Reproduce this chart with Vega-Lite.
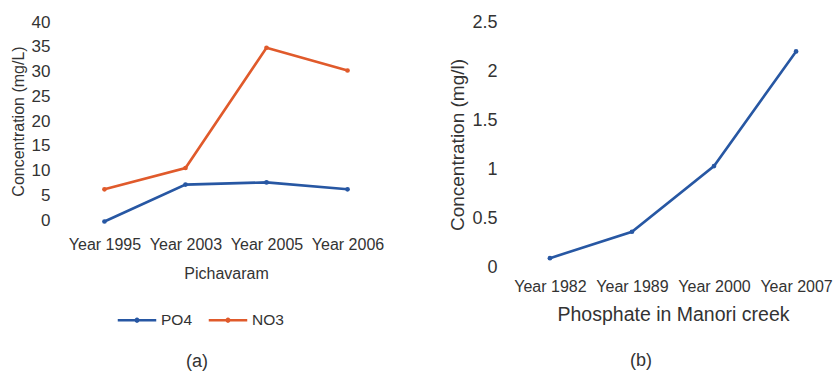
{
  "$schema": "https://vega.github.io/schema/vega-lite/v6.json",
  "padding": {"left": 10, "top": 13, "right": 0, "bottom": 0},
  "background": "white",
  "bounds": "flush",
  "spacing": 129,
  "config": {
    "font": "Liberation Sans",
    "view": {"stroke": null},
    "axis": {"grid": false, "domain": false, "ticks": false, "tickSize": 0, "labelColor": "#333333", "titleColor": "#333333", "titleFontWeight": "normal"},
    "legend": {"labelColor": "#333333"},
    "title": {"color": "#333333", "fontWeight": "normal"}
  },
  "datasets": {
    "pichavaram": [
      {"year": "Year 1995", "series": "PO4", "value": -0.3},
      {"year": "Year 2003", "series": "PO4", "value": 7.15},
      {"year": "Year 2005", "series": "PO4", "value": 7.6},
      {"year": "Year 2006", "series": "PO4", "value": 6.2},
      {"year": "Year 1995", "series": "NO3", "value": 6.2},
      {"year": "Year 2003", "series": "NO3", "value": 10.5},
      {"year": "Year 2005", "series": "NO3", "value": 34.8},
      {"year": "Year 2006", "series": "NO3", "value": 30.2}
    ],
    "manori": [
      {"year": "Year 1982", "value": 0.09},
      {"year": "Year 1989", "value": 0.36},
      {"year": "Year 2000", "value": 1.03},
      {"year": "Year 2007", "value": 2.2}
    ]
  },
  "hconcat": [
    {
      "width": 316,
      "height": 198,
      "data": {"name": "pichavaram"},
      "title": {"text": "(a)", "orient": "bottom", "anchor": "middle", "frame": "bounds", "offset": 71, "fontSize": 18},
      "mark": {"type": "line", "strokeWidth": 2.6, "point": {"filled": true, "size": 22}},
      "encoding": {
        "x": {
          "field": "year", "type": "ordinal", "sort": null,
          "scale": {"type": "point", "padding": 0.45},
          "axis": {"title": "Pichavaram", "labelAngle": 0, "labelFontSize": 16, "labelPadding": 16.5, "titleFontSize": 16, "titlePadding": 13}
        },
        "y": {
          "field": "value", "type": "quantitative",
          "scale": {"domain": [0, 40], "nice": false, "zero": false},
          "axis": {"title": "Concentration (mg/L)", "values": [0, 5, 10, 15, 20, 25, 30, 35, 40], "labelFontSize": 17, "labelPadding": 18, "titleFontSize": 16, "titlePadding": 5}
        },
        "color": {
          "field": "series", "type": "nominal",
          "scale": {"domain": ["PO4", "NO3"], "range": ["#2757a3", "#e05a2b"]},
          "legend": {
            "title": null, "orient": "none", "direction": "horizontal", "legendX": 48, "legendY": 277,
            "padding": 0,
            "symbolType": "M-1,0H1M0.07,0A0.07,0.07,0,1,1,-0.07,0A0.07,0.07,0,1,1,0.07,0",
            "symbolSize": 1482, "symbolStrokeWidth": 2.6,
            "labelFontSize": 15.5, "labelOffset": 3, "columnPadding": 10
          }
        }
      }
    },
    {
      "width": 320,
      "height": 245,
      "data": {"name": "manori"},
      "title": {"text": "(b)", "orient": "bottom", "anchor": "middle", "frame": "bounds", "offset": 28, "fontSize": 18},
      "mark": {"type": "line", "strokeWidth": 2.6, "color": "#2757a3", "point": {"filled": true, "size": 22, "color": "#2757a3"}},
      "encoding": {
        "x": {
          "field": "year", "type": "ordinal", "sort": null,
          "scale": {"type": "point", "padding": 0.45},
          "axis": {"title": "Phosphate in Manori creek", "labelAngle": 0, "labelFontSize": 16, "labelPadding": 11.5, "titleFontSize": 19.5, "titlePadding": 11}
        },
        "y": {
          "field": "value", "type": "quantitative",
          "scale": {"domain": [0, 2.5], "nice": false, "zero": false},
          "axis": {"title": "Concentration (mg/l)", "values": [0, 0.5, 1, 1.5, 2, 2.5], "format": "~f", "labelFontSize": 18, "labelPadding": 16, "titleFontSize": 19, "titlePadding": 4}
        }
      }
    }
  ]
}
